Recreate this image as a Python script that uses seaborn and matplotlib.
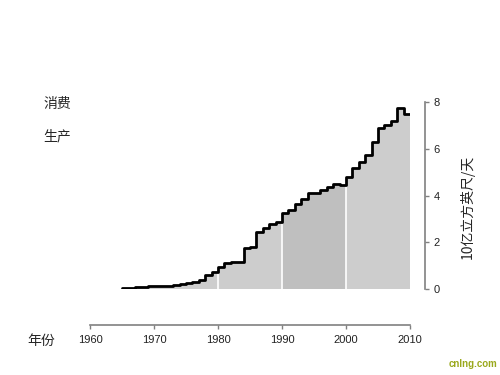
import numpy as np
import pandas as pd
import matplotlib
matplotlib.use('Agg')
import matplotlib.pyplot as plt
import seaborn as sns

# --- データ ---
years = list(range(1965, 2010))
values = [0.05, 0.06, 0.08, 0.10, 0.12, 0.15, 0.13, 0.13, 0.17, 0.22,
          0.25, 0.30, 0.40, 0.60, 0.72, 0.95, 1.10, 1.15, 1.15, 1.75,
          1.80, 2.45, 2.60, 2.80, 2.87, 3.25, 3.38, 3.65, 3.85, 4.10,
          4.10, 4.22, 4.35, 4.50, 4.45, 4.80, 5.17, 5.43, 5.73, 6.28,
          6.88, 7.00, 7.18, 7.73, 7.48]
end_year = 2010
band_edges = [1965, 1980, 1990, 2000, 2010]
band_colors = ['#cdcdcd', '#cdcdcd', '#bfbfbf', '#cdcdcd']
xticks = [1960, 1970, 1980, 1990, 2000, 2010]
yticks = [0, 2, 4, 6, 8]
ylabel = '10亿立方英尺/天'
side_labels = ['消费', '生产']
xlabel = '年份'

# 最後のステップを2010年まで伸ばす
df = pd.DataFrame({'year': years + [end_year], 'value': values + [values[-1]]})

sns.set_style('white')
plt.rcParams['font.family'] = ['Liberation Sans', 'Noto Sans CJK SC', 'DejaVu Sans']

fig = plt.figure(figsize=(5, 3.75), dpi=100)
ax = fig.add_axes([0.18, 0.2293, 0.64, 0.4987])

# 塗りつぶし（年代ごと）
for (a, b), c in zip(zip(band_edges[:-1], band_edges[1:]), band_colors):
    sub = df[(df['year'] >= a) & (df['year'] <= b)]
    ax.fill_between(sub['year'], 0, sub['value'], step='post', color=c, lw=0)

# 年代の境界線（白）
for b in band_edges[1:-1]:
    prev = df.loc[df['year'] == b - 1, 'value'].iloc[0]
    ax.vlines(b, 0, prev, color='white', lw=1.2)

sns.lineplot(data=df, x='year', y='value', drawstyle='steps-post',
             color='black', lw=2, ax=ax)

ax.set_xlim(1960, 2010)
ax.set_ylim(0, 8)
ax.set_xlabel('')
ax.set_ylabel('')

# 軸線（ピクセル→ポイント換算）
for s in ['top', 'left']:
    ax.spines[s].set_visible(False)
ax.spines['bottom'].set_position(('outward', 36 * 0.72))
ax.spines['bottom'].set_bounds(1960, 2010)
ax.spines['right'].set_position(('outward', 15 * 0.72))
ax.spines['right'].set_bounds(0, 8)
for s in ['bottom', 'right']:
    ax.spines[s].set_color('#808080')
    ax.spines[s].set_linewidth(1.2)

ax.set_xticks(xticks)
ax.set_yticks(yticks)
ax.yaxis.tick_right()
ax.tick_params(axis='x', bottom=True)
ax.tick_params(axis='both', colors='#808080', labelcolor='#222222',
               labelsize=8, length=3, width=1.0, direction='out')
ax.tick_params(axis='x', pad=4)
ax.tick_params(axis='y', pad=3)

fig.text(467 / 500, 1 - 207 / 375, ylabel, rotation=90, ha='center', va='center',
         fontsize=10, family=['Noto Sans CJK SC', 'DejaVu Sans'])
fig.text(43 / 500, 1 - 104 / 375, side_labels[0], ha='left', va='center',
         fontsize=10, family=['Noto Sans CJK SC'])
fig.text(43 / 500, 1 - 136 / 375, side_labels[1], ha='left', va='center',
         fontsize=10, family=['Noto Sans CJK SC'])
fig.text(27 / 500, 1 - 341 / 375, xlabel, ha='left', va='center',
         fontsize=10, family=['Noto Sans CJK SC'])
fig.text(0.995, 0.015, 'cnlng.com', ha='right', va='bottom', fontsize=7,
         fontweight='bold', color='#9aa81c')

fig.savefig('out.png', dpi=100)
